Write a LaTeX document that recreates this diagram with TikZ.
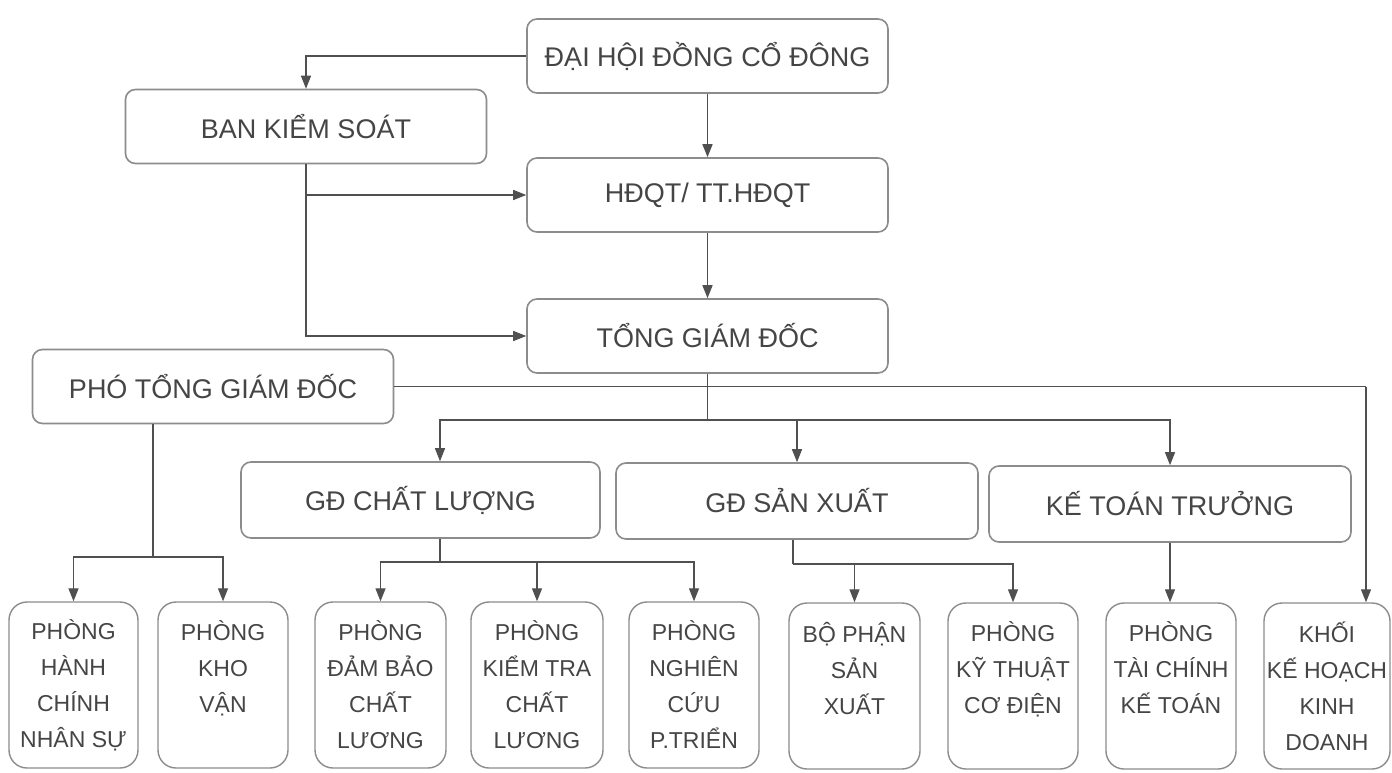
\documentclass[tikz,border=0pt]{standalone}
\usepackage{fontspec}
\setmainfont{Liberation Sans}
\usetikzlibrary{arrows.meta}
\definecolor{ink}{HTML}{454545}
\definecolor{edge}{HTML}{8C8C8C}
\definecolor{wirec}{HTML}{505050}
\begin{document}
\begin{tikzpicture}[x=1pt,y=-1pt,
  topbox/.style={draw=edge, line width=1.6pt, rounded corners=10pt, fill=white,
    minimum width=361pt, minimum height=74pt, inner sep=0pt, text=ink,
    font=\fontsize{27}{32}\selectfont},
  unitbox/.style={draw=edge, line width=1.4pt, rounded corners=18pt, fill=white,
    minimum width=130pt, minimum height=166pt, inner sep=0pt, text=ink, align=center,
    font=\fontsize{23}{36}\selectfont},
  link/.style={draw=wirec, line width=1.3pt},
  arr/.style={link, -{Triangle[length=13pt,width=10pt]}}]
\useasboundingbox (0,0) rectangle (1392,773);
\fill[white] (0,0) rectangle (1392,773);

% top level boxes
\node[topbox] (dh)   at (707.5,56)  {ĐẠI HỘI ĐỒNG CỔ ĐÔNG};
\node[topbox] (bks)  at (306,126.5) {BAN KIỂM SOÁT};
\node[topbox] (hdqt) at (707.5,195) {HĐQT/ TT.HĐQT};
\node[topbox] (tgd)  at (707.5,336) {TỔNG GIÁM ĐỐC};
\node[topbox] (pho)  at (213,386.5) {PHÓ TỔNG GIÁM ĐỐC};
\node[topbox, minimum width=359pt, minimum height=76pt] (gdcl) at (420.5,500) {GĐ CHẤT LƯỢNG};
\node[topbox, minimum width=362pt, minimum height=76pt] (gdsx) at (797,501)   {GĐ SẢN XUẤT};
\node[topbox, minimum width=362pt, minimum height=76pt] (ktt)  at (1170,504)  {KẾ TOÁN TRƯỞNG};

% bottom units
\node[unitbox, minimum width=129pt] (b1) at (73.5,685)  {PHÒNG\\HÀNH\\CHÍNH\\NHÂN SỰ};
\node[unitbox] (b2) at (223,685)   {PHÒNG\\KHO\\VẬN\\\mbox{}};
\node[unitbox, minimum width=131pt] (b3) at (380.5,685) {PHÒNG\\ĐẢM BẢO\\CHẤT\\LƯƠNG};
\node[unitbox, minimum width=132pt] (b4) at (537,685)   {PHÒNG\\KIỂM TRA\\CHẤT\\LƯƠNG};
\node[unitbox] (b5) at (694,685)   {PHÒNG\\NGHIÊN\\CỨU\\P.TRIỂN};
\node[unitbox, minimum width=131pt] (b6) at (854.5,686) {BỘ PHẬN\\SẢN\\XUẤT\\\mbox{}};
\node[unitbox, minimum width=130pt] (b7) at (1013,686)  {PHÒNG\\KỸ THUẬT\\CƠ ĐIỆN\\\mbox{}};
\node[unitbox] (b8) at (1171,686)  {PHÒNG\\TÀI CHÍNH\\KẾ TOÁN\\\mbox{}};
\node[unitbox, minimum width=126pt] (b9) at (1327,686)  {KHỐI\\KẾ HOẠCH\\KINH\\DOANH};

% junction coordinates
\coordinate (tj) at (707.5,420);
\coordinate (pj) at (153,557);
\coordinate (cj) at (440,562);
\coordinate (sj) at (793,564);
\coordinate (kj) at (1366,386.5);

% upper connectors
\draw[arr] (dh.west) -| (bks.north);
\draw[arr] (dh.south) -- (hdqt.north);
\draw[arr] (hdqt.south) -- (tgd.north);
\draw[arr] (bks.south) |- (tgd.west);
\draw[arr] (bks.south |- hdqt.west) -- (hdqt.west);

% general director to directors
\draw[link] (tgd.south) -- (tj);
\draw[arr] (tj) -| (cj |- gdcl.north);
\draw[arr] (tj) -| (gdsx.north);
\draw[arr] (tj) -| (ktt.north);

% deputy general director
\draw[link] (pho.east) -- (kj);
\draw[arr] (kj) -- (kj |- b9.north);
\draw[link] (pj |- pho.south) -- (pj);
\draw[arr] (pj) -| (b1.north);
\draw[arr] (pj) -| (b2.north);

% quality director
\draw[link] (cj |- gdcl.south) -- (cj);
\draw[arr] (cj) -| (b3.north);
\draw[arr] (cj) -| (b4.north);
\draw[arr] (cj) -| (b5.north);

% production director
\draw[link] (sj |- gdsx.south) -- (sj);
\draw[arr] (sj) -| (b6.north);
\draw[arr] (sj) -| (b7.north);

% chief accountant
\draw[arr] (ktt.south) -- (ktt.south |- b8.north);
\end{tikzpicture}
\end{document}
